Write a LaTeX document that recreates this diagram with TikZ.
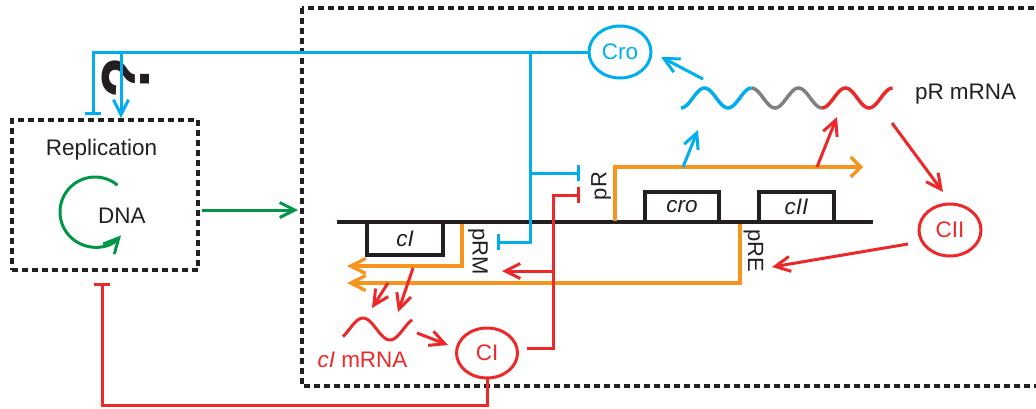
\documentclass[tikz,border=0pt]{standalone}
\usepackage{fontspec}
\setmainfont{Liberation Sans}
\usetikzlibrary{arrows.meta,shapes.geometric}
\definecolor{cblue}{RGB}{0,174,239}
\definecolor{cred}{RGB}{237,40,40}
\definecolor{corange}{RGB}{247,148,29}
\definecolor{cgreen}{RGB}{0,150,70}
\definecolor{cgray}{RGB}{128,128,128}
\definecolor{ink}{RGB}{35,31,32}
\begin{document}
\begin{tikzpicture}[x=1pt,y=-1pt,
  every node/.style={inner sep=0pt,outer sep=0pt,font=\fontsize{22.5}{26}\selectfont,text=ink},
  ln/.style={line width=3pt},
  arr/.style={ln,-{Straight Barb[length=15pt,width=15pt]}},
  warr/.style={ln,-{Straight Barb[length=10pt,width=20pt]}},
  tee/.style={ln,-{Bar[width=16pt]}},
  dashbox/.style={draw=ink,line width=3.2pt,dash pattern=on 6pt off 4pt},
  gene/.style={draw=ink,line width=3.5pt,minimum width=75pt,minimum height=31pt,font=\fontsize{22.5}{26}\selectfont\itshape},
  prot/.style={ellipse,draw,line width=3pt,minimum width=62pt,minimum height=52pt},
  promo/.style={font=\fontsize{22}{26}\selectfont}
]
\useasboundingbox (0,0) rectangle (1036,408);
\clip (0,0) rectangle (1036,408);

% boxes
\draw[dashbox] (302,8) rectangle (1070,386);
\node[dashbox,minimum width=186pt,minimum height=150pt] (rep) at (105,195) {};
\node[anchor=base] (reptxt) at (101.5,155) {Replication};
\node[anchor=base] (dna) at (122,223) {DNA};

% DNA line and genes
\coordinate (dL) at (337,222);
\coordinate (dR) at (873,222);
\draw[ink,line width=3.5pt] (dL) -- (dR);
\node[gene,minimum width=76pt,minimum height=33pt] (gcI) at (405,238.5) {cI};
\node[gene,minimum width=74pt,minimum height=30pt] (gcro) at (682,207) {cro};
\node[gene,minimum width=75pt,minimum height=30pt] (gcII) at (796.5,207) {cII};

% promoter labels
\node[promo,rotate=90] (lpR) at (601,186) {pR};
\node[promo,rotate=-90] (lpRM) at (478,251.5) {pRM};
\node[promo,rotate=-90] (lpRE) at (753.5,251) {pRE};

% proteins
\node[prot,draw=cblue,text=cblue] (Cro) at (620,52) {Cro};
\node[prot,draw=cred,text=cred] (CII) at (950,230) {CII};
\node[prot,draw=cred,text=cred,minimum height=50pt,minimum width=61pt] (CI) at (487,353) {CI};

% texts
\node[anchor=base west] (prm) at (915,99) {pR mRNA};
\node[anchor=base,text=cred] (cimrna) at (362.5,367.5) {{\itshape cI} mRNA};
\node[rotate=90,font=\fontsize{68}{68}\selectfont\bfseries] (qm) at (126,78) {?};

% orange transcripts
\coordinate (oR0) at (615,221);
\coordinate (oR1) at (863,167);
\coordinate (oM0) at (462,224);
\coordinate (oM1) at (347,266);
\coordinate (oE0) at (740,224);
\coordinate (oE1) at (347,283);
\draw[warr,corange,line width=3.3pt] (oR0) |- (oR1);
\draw[arr,corange,line width=3.3pt] (oM0) |- (oM1);
\draw[arr,corange,line width=3.3pt] (oE0) |- (oE1);

% waves
\draw[ln,cblue,line width=3.5pt] plot[domain=681:751.5,samples=40] (\x,{98+10*cos(7.6596*(\x-681))});
\draw[ln,cgray,line width=3.5pt] plot[domain=751.5:822,samples=40] (\x,{98+10*cos(7.6596*(\x-681))});
\draw[ln,cred,line width=3.5pt] plot[domain=822:892.5,samples=40] (\x,{98+10*cos(7.6596*(\x-681))});
\draw[ln,cred] plot[domain=343:412,samples=40] (\x,{329-11*cos(6.6667*(\x-363))});

% blue regulation
\coordinate (tRep) at (93,115);
\coordinate (jq) at (121,52);
\coordinate (aRep) at (121,118);
\coordinate (jb) at (530,52);
\coordinate (tRM) at (497,242);
\coordinate (jb2) at (530,173);
\coordinate (tR1) at (580,173);
\draw[tee,cblue] (Cro.west) -| (tRep);
\draw[arr,cblue] (jq) -- (aRep);
\draw[tee,cblue] (jb) |- (tRM);
\draw[tee,cblue] (jb2) -- (tR1);

% red regulation
\coordinate (rs) at (527,348);
\coordinate (rc) at (553,195);
\coordinate (tR2) at (580,195);
\coordinate (jr) at (553,271);
\coordinate (aRM) at (502,271);
\coordinate (rb) at (487,405);
\coordinate (tRep2) at (102,283);
\draw[tee,cred] (rs) -| (rc) -- (tR2);
\draw[arr,cred] (jr) -- (aRM);
\draw[tee,cred] (CI.south) -- (rb) -| (tRep2);

% green
\coordinate (g1) at (202,210);
\coordinate (g2) at (298,210);
\draw[arr,cgreen] (g1) -- (g2);
\draw[arr,cgreen] ([shift={(-50:35)}]95,212) arc[start angle=-50,end angle=-318,radius=35];

% production arrows
\coordinate (b0) at (683,167);
\coordinate (b1) at (698,130);
\coordinate (b2) at (703,79);
\coordinate (b3) at (661,57);
\coordinate (r0) at (817,167);
\coordinate (r1) at (837,117);
\coordinate (r2) at (892,123);
\coordinate (r3) at (943,192);
\coordinate (r4) at (908,244);
\coordinate (r5) at (772,267);
\draw[arr,cblue] (b0) -- (b1);
\draw[arr,cblue] (b2) -- (b3);
\draw[arr,cred] (r0) -- (r1);
\draw[arr,cred] (r2) -- (r3);
\draw[arr,cred] (r4) -- (r5);

\coordinate (m0) at (413,268);
\coordinate (m1) at (398,312);
\coordinate (m2) at (388,283);
\coordinate (m3) at (372,308);
\coordinate (m4) at (417,333);
\coordinate (m5) at (448,345);
\draw[arr,cred] (m0) -- (m1);
\draw[arr,cred] (m2) -- (m3);
\draw[arr,cred] (m4) -- (m5);
\end{tikzpicture}
\end{document}
